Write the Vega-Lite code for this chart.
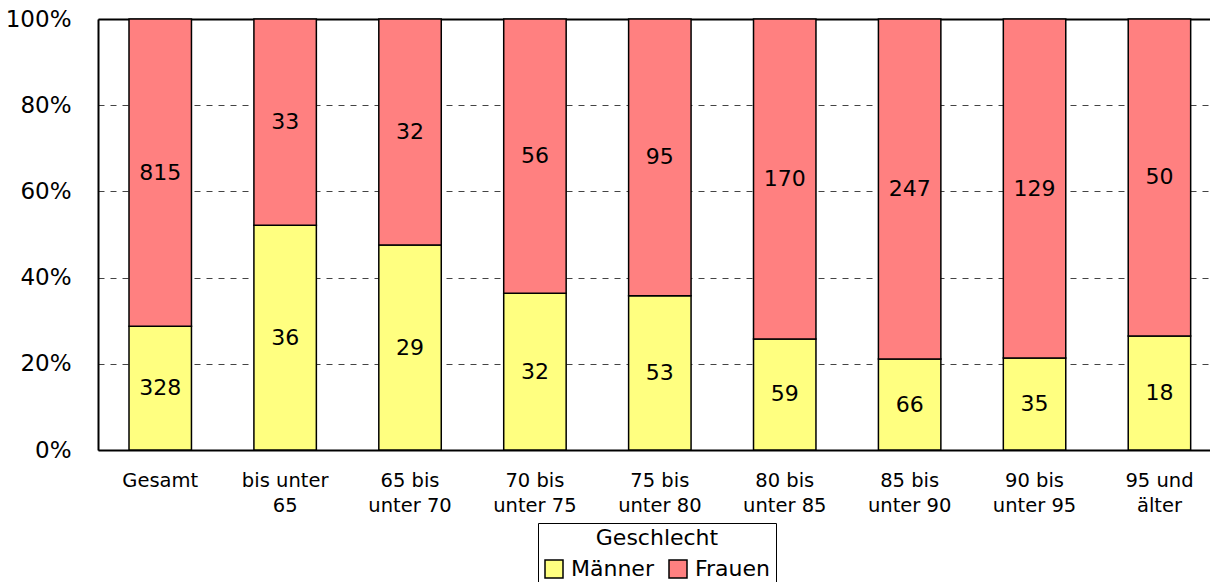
{
  "$schema": "https://vega.github.io/schema/vega-lite/v6.json",
  "autosize": "none",
  "width": 1112,
  "height": 431,
  "padding": {"left": 98, "top": 19, "right": 0, "bottom": 132},
  "background": "white",
  "config": {
    "font": "DejaVu Sans",
    "view": {"stroke": null}
  },
  "data": {
    "values": [
      {"cat": "Gesamt", "ord": 1, "sex": "Männer", "n": 328},
      {"cat": "Gesamt", "ord": 1, "sex": "Frauen", "n": 815},
      {"cat": "bis unter\n65", "ord": 2, "sex": "Männer", "n": 36},
      {"cat": "bis unter\n65", "ord": 2, "sex": "Frauen", "n": 33},
      {"cat": "65 bis\nunter 70", "ord": 3, "sex": "Männer", "n": 29},
      {"cat": "65 bis\nunter 70", "ord": 3, "sex": "Frauen", "n": 32},
      {"cat": "70 bis\nunter 75", "ord": 4, "sex": "Männer", "n": 32},
      {"cat": "70 bis\nunter 75", "ord": 4, "sex": "Frauen", "n": 56},
      {"cat": "75 bis\nunter 80", "ord": 5, "sex": "Männer", "n": 53},
      {"cat": "75 bis\nunter 80", "ord": 5, "sex": "Frauen", "n": 95},
      {"cat": "80 bis\nunter 85", "ord": 6, "sex": "Männer", "n": 59},
      {"cat": "80 bis\nunter 85", "ord": 6, "sex": "Frauen", "n": 170},
      {"cat": "85 bis\nunter 90", "ord": 7, "sex": "Männer", "n": 66},
      {"cat": "85 bis\nunter 90", "ord": 7, "sex": "Frauen", "n": 247},
      {"cat": "90 bis\nunter 95", "ord": 8, "sex": "Männer", "n": 35},
      {"cat": "90 bis\nunter 95", "ord": 8, "sex": "Frauen", "n": 129},
      {"cat": "95 und\nälter", "ord": 9, "sex": "Männer", "n": 18},
      {"cat": "95 und\nälter", "ord": 9, "sex": "Frauen", "n": 50}
    ]
  },
  "transform": [
    {"stack": "n", "groupby": ["cat"], "offset": "normalize", "sort": [{"field": "sex", "order": "descending"}], "as": ["y0", "y1"]},
    {"calculate": "(datum.y0 + datum.y1) / 2", "as": "ymid"}
  ],
  "resolve": {"axis": {"x": "independent"}},
  "layer": [
    {
      "mark": {"type": "bar", "stroke": "black", "strokeWidth": 1.5},
      "encoding": {
        "x": {
          "field": "cat",
          "type": "nominal",
          "sort": {"field": "ord", "op": "min"},
          "scale": {"paddingInner": 0.5, "paddingOuter": 0.2015, "align": 0.616},
          "axis": {
            "title": null,
            "orient": "bottom",
            "labelAngle": 0,
            "labelExpr": "split(datum.label, '\\n')",
            "labelFont": "DejaVu Sans",
            "labelFontSize": 19.5,
            "labelColor": "black",
            "labelPadding": 21,
            "labelLineHeight": 25,
            "ticks": false,
            "domainColor": "black",
            "domainWidth": 2
          }
        },
        "y": {
          "field": "y1",
          "type": "quantitative",
          "scale": {"domain": [0, 1], "nice": false},
          "axis": {
            "title": null,
            "format": ".0%",
            "values": [0, 0.2, 0.4, 0.6, 0.8, 1],
            "labelFontSize": 23,
            "labelColor": "black",
            "labelPadding": 27,
            "ticks": false,
            "domainColor": "black",
            "domainWidth": 2,
            "grid": true,
            "gridColor": "#444",
            "gridDash": [6, 6],
            "gridWidth": 1
          }
        },
        "y2": {"field": "y0"},
        "color": {
          "field": "sex",
          "type": "nominal",
          "scale": {"domain": ["Männer", "Frauen"], "range": ["#FFFF80", "#FF8080"]},
          "legend": {
            "title": "Geschlecht",
            "orient": "none",
            "legendX": 440,
            "legendY": 504,
            "direction": "horizontal",
            "titleAnchor": "middle",
            "titleFontSize": 22,
            "titleFontWeight": "normal",
            "titleColor": "black",
            "titlePadding": 8,
            "labelFontSize": 22,
            "labelColor": "black",
            "labelOffset": 6,
            "symbolType": "square",
            "symbolSize": 324,
            "symbolStrokeColor": "black",
            "symbolStrokeWidth": 1.5,
            "columnPadding": 12,
            "strokeColor": "black",
            "padding": 5,
            "fillColor": "white"
          }
        }
      }
    },
    {
      "mark": {"type": "text", "fontSize": 22, "color": "black", "font": "DejaVu Sans"},
      "encoding": {
        "x": {
          "field": "cat",
          "type": "nominal",
          "sort": {"field": "ord", "op": "min"},
          "axis": {
            "title": null,
            "orient": "top",
            "labels": false,
            "ticks": false,
            "grid": false,
            "domainColor": "black",
            "domainWidth": 2
          }
        },
        "y": {"field": "ymid", "type": "quantitative"},
        "text": {"field": "n", "type": "quantitative"}
      }
    }
  ]
}
